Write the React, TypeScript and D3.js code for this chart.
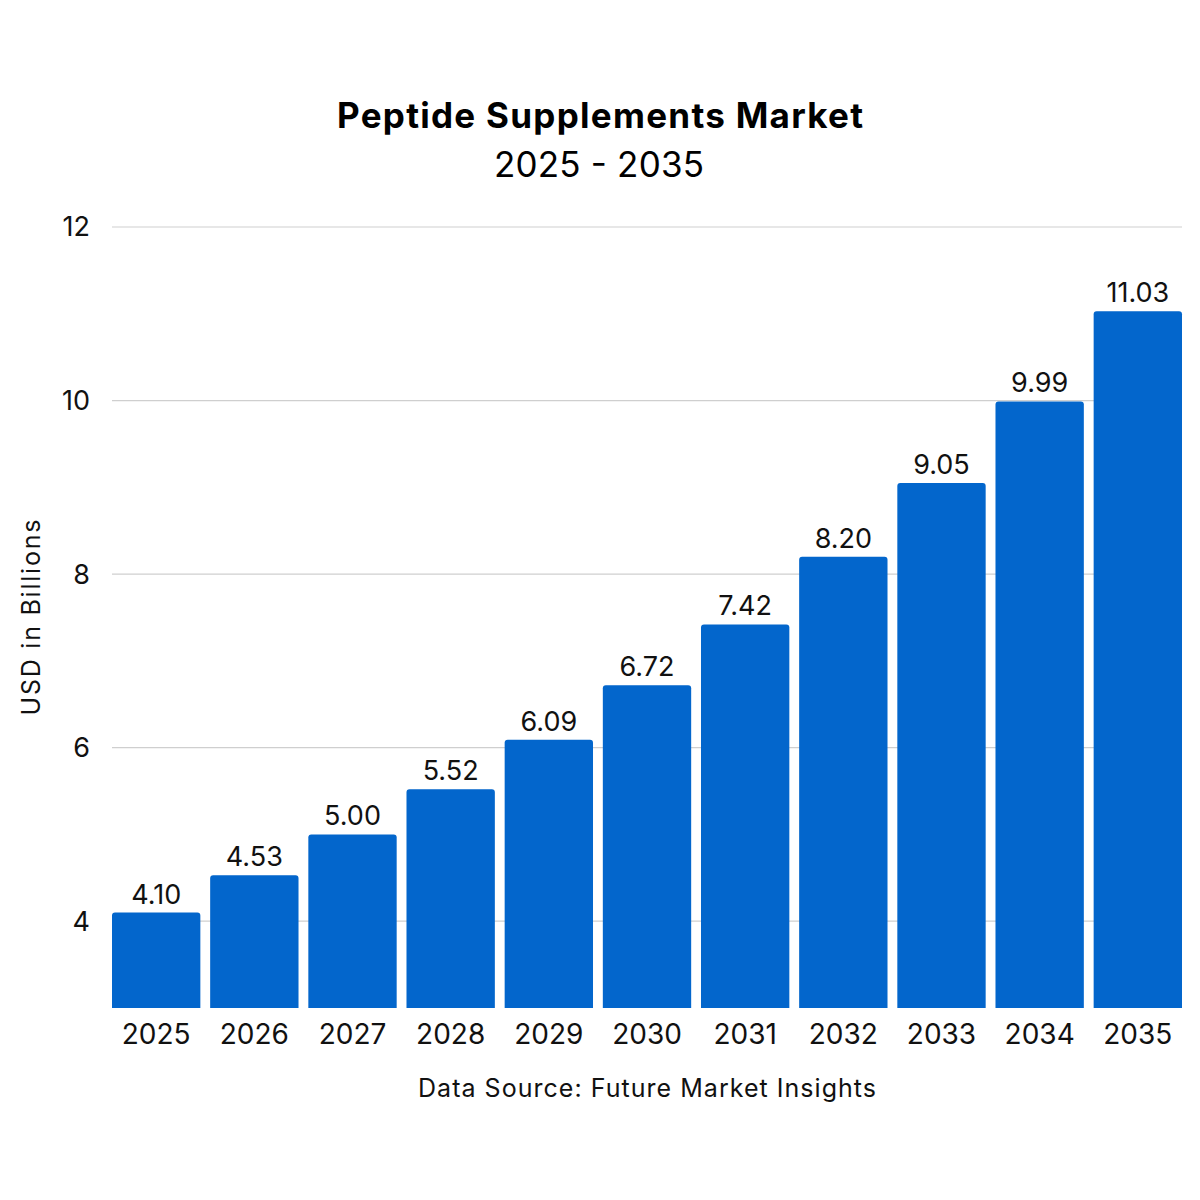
import React from 'react';
import * as d3 from 'd3';

const years = ['2025', '2026', '2027', '2028', '2029', '2030', '2031', '2032', '2033', '2034', '2035'];
const values = [4.1, 4.53, 5.0, 5.52, 6.09, 6.72, 7.42, 8.2, 9.05, 9.99, 11.03];
const yTicks = [4, 6, 8, 10, 12];

const WIDTH = 1200;
const HEIGHT = 1200;
const FONT = 'Inter, "Open Sans", sans-serif';

const margin = { l: 112, r: 18, t: 227, b: 192 };

const App = () => {
  const x = d3
    .scaleBand()
    .domain(years)
    .range([margin.l, WIDTH - margin.r])
    .paddingInner(0.1)
    .paddingOuter(0);
  const y = d3.scaleLinear().domain([3, 12]).range([HEIGHT - margin.b, margin.t]);

  const bw = x.bandwidth();
  const r = 3;
  const barPath = (x0: number, y0: number, w: number, y1: number) => {
    const p = d3.path();
    p.moveTo(x0, y1);
    p.lineTo(x0, y0 + r);
    p.arcTo(x0, y0, x0 + r, y0, r);
    p.lineTo(x0 + w - r, y0);
    p.arcTo(x0 + w, y0, x0 + w, y0 + r, r);
    p.lineTo(x0 + w, y1);
    p.closePath();
    return p.toString();
  };

  const plotCenter = (margin.l + WIDTH - margin.r) / 2;

  return (
    <svg width={WIDTH} height={HEIGHT} viewBox={`0 0 ${WIDTH} ${HEIGHT}`}
      style={{ display: 'block', position: 'absolute', left: 0, top: 0, background: '#fff' }}>
      <rect width={WIDTH} height={HEIGHT} fill="#fff" />
      <text x={600} y={128} textAnchor="middle" fontFamily={FONT} fontWeight={700} fontSize={35} fill="#000"
        textLength={526} lengthAdjust="spacing">
        Peptide Supplements Market
      </text>
      <text x={599} y={177} textAnchor="middle" fontFamily={FONT} fontSize={35} fill="#000"
        textLength={210} lengthAdjust="spacing">
        2025 - 2035
      </text>

      {yTicks.map((t) => (
        <g key={t}>
          <line x1={margin.l} x2={WIDTH - margin.r} y1={y(t)} y2={y(t)} stroke="#cfcfcf" strokeWidth={1.2} />
          <text x={90} y={y(t)} dy="0.35em" textAnchor="end" fontFamily={FONT} fontSize={27} fill="#111">
            {t}
          </text>
        </g>
      ))}

      {values.map((v, i) => {
        const x0 = x(years[i]) as number;
        return (
          <g key={years[i]}>
            <path d={barPath(x0, y(v), bw, y(3))} fill="#0366CC" />
            <text x={x0 + bw / 2} y={y(v) - 9} textAnchor="middle" fontFamily={FONT} fontSize={27} fill="#111">
              {v.toFixed(2)}
            </text>
            <text x={x0 + bw / 2} y={1044} textAnchor="middle" fontFamily={FONT} fontSize={28} fill="#111">
              {years[i]}
            </text>
          </g>
        );
      })}

      <text transform={`translate(40, ${(y(3) + y(12)) / 2}) rotate(-90)`} textAnchor="middle"
        fontFamily={FONT} fontSize={25} fill="#111" textLength={196} lengthAdjust="spacing">
        USD in Billions
      </text>
      <text x={plotCenter} y={1097} textAnchor="middle" fontFamily={FONT} fontSize={25} fill="#111"
        textLength={458} lengthAdjust="spacing">
        Data Source: Future Market Insights
      </text>
    </svg>
  );
};

export default App;
